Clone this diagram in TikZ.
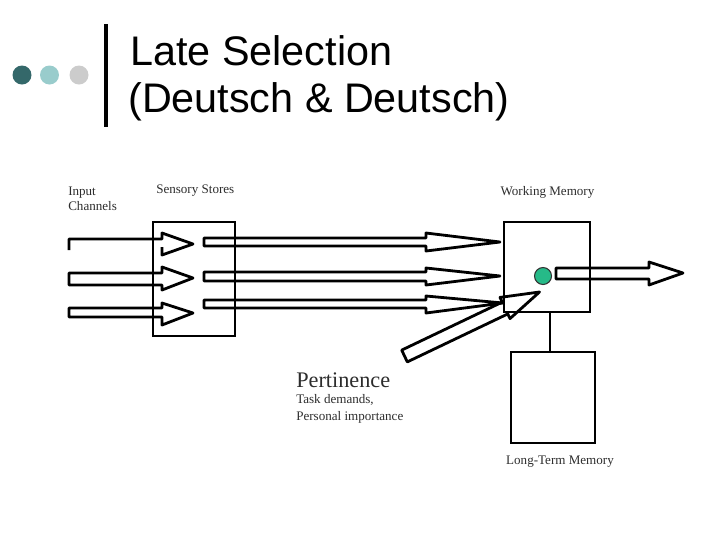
\documentclass[tikz,border=0pt]{standalone}
\usepackage{fontspec}
\setmainfont{Liberation Serif}
\newfontfamily\titlefont{Liberation Sans}
\usetikzlibrary{calc}
\definecolor{dotdark}{RGB}{52,104,106}
\definecolor{dotlight}{RGB}{153,204,204}
\definecolor{dotgray}{RGB}{204,204,204}
\definecolor{wmdot}{RGB}{38,186,136}
\definecolor{labelgray}{RGB}{45,45,45}
\newcommand\blockarrow[8]{%
  \draw[arrowline] (#1,#4) -- (#2,#4) -- (#2,#6) -- (#3,#8) -- (#2,#7) -- (#2,#5) -- (#1,#5) -- cycle;}
\tikzset{
  arrowline/.style={line width=2.1pt, line join=round},
  boxnode/.style={draw, line width=1.7pt, inner sep=0pt, outer sep=0pt},
  smalllabel/.style={font=\fontsize{9.8}{11.5}\selectfont, text=labelgray, inner sep=0pt},
}
\begin{document}
\begin{tikzpicture}[x=0.75pt,y=-0.75pt]
\useasboundingbox (0,0) rectangle (720,540);

% title decoration
\fill[dotdark] (22,75) circle (9.5);
\fill[dotlight] (49.5,75) circle (9.5);
\fill[dotgray] (79,75) circle (9.5);
\draw[line width=3pt] (106,24) -- (106,127);
\node[anchor=base west, inner sep=0pt, font=\titlefont\fontsize{31}{35}\selectfont] (t1) at (130,65) {Late Selection};
\node[anchor=base west, inner sep=0pt, font=\titlefont\fontsize{31}{35}\selectfont] (t2) at (128,112) {(Deutsch \& Deutsch)};

% boxes
\node[boxnode, minimum width=82*0.75pt, minimum height=114*0.75pt] (ss) at (194,279) {};
\node[boxnode, minimum width=86*0.75pt, minimum height=90*0.75pt] (wm) at (547,267) {};
\node[boxnode, minimum width=84*0.75pt, minimum height=91*0.75pt] (ltm) at (553,397.5) {};
\draw[line width=2.1pt] ([xshift=2.25pt]wm.south) -- ([xshift=2.25pt]wm.south |- ltm.north);

% input channels
\draw[arrowline] (69,250) -- (69,239) -- (162,239) -- (162,233) -- (193,244) -- (162,255) -- (162,247);
\blockarrow{69}{162}{193}{273}{285}{267}{290}{278}
\blockarrow{69}{162}{193}{308}{317}{303}{325}{313}

% sensory store to working memory
\blockarrow{204}{426}{500}{238}{246}{233}{251}{242}
\blockarrow{204}{426}{500}{272}{281}{268}{285}{276}
\blockarrow{204}{426}{503}{300}{308}{296}{313}{303}

% output
\blockarrow{556}{649}{683}{268}{279}{262}{285}{273}

% pertinence arrow
\draw[arrowline] (401.7,350.1) -- (502.2,302.1) -- (500,297.4) -- (539.5,292) -- (510,318.6) -- (507.8,313.9) -- (407.3,361.9) -- cycle;

% selected item
\node[circle, draw=black!80, line width=0.8pt, fill=wmdot, minimum size=17*0.75pt, inner sep=0pt] (sel) at (543,276) {};

% labels
\node[smalllabel, anchor=base west] (in1) at (68,195) {Input};
\node[smalllabel, anchor=base west] (in2) at (68,210) {Channels};
\node[smalllabel, anchor=base west] (ssl) at (156,193) {Sensory Stores};
\node[smalllabel, anchor=base] (wml) at (547.5,195) {Working Memory};
\node[anchor=base west, inner sep=0pt, text=labelgray, font=\fontsize{16.7}{19}\selectfont] (pert) at (296,387) {Pertinence};
\node[smalllabel, anchor=base west] (p1) at (296,403) {Task demands,};
\node[smalllabel, anchor=base west] (p2) at (296,420) {Personal importance};
\node[smalllabel, anchor=base] (ltml) at (560,464) {Long-Term Memory};
\end{tikzpicture}
\end{document}
